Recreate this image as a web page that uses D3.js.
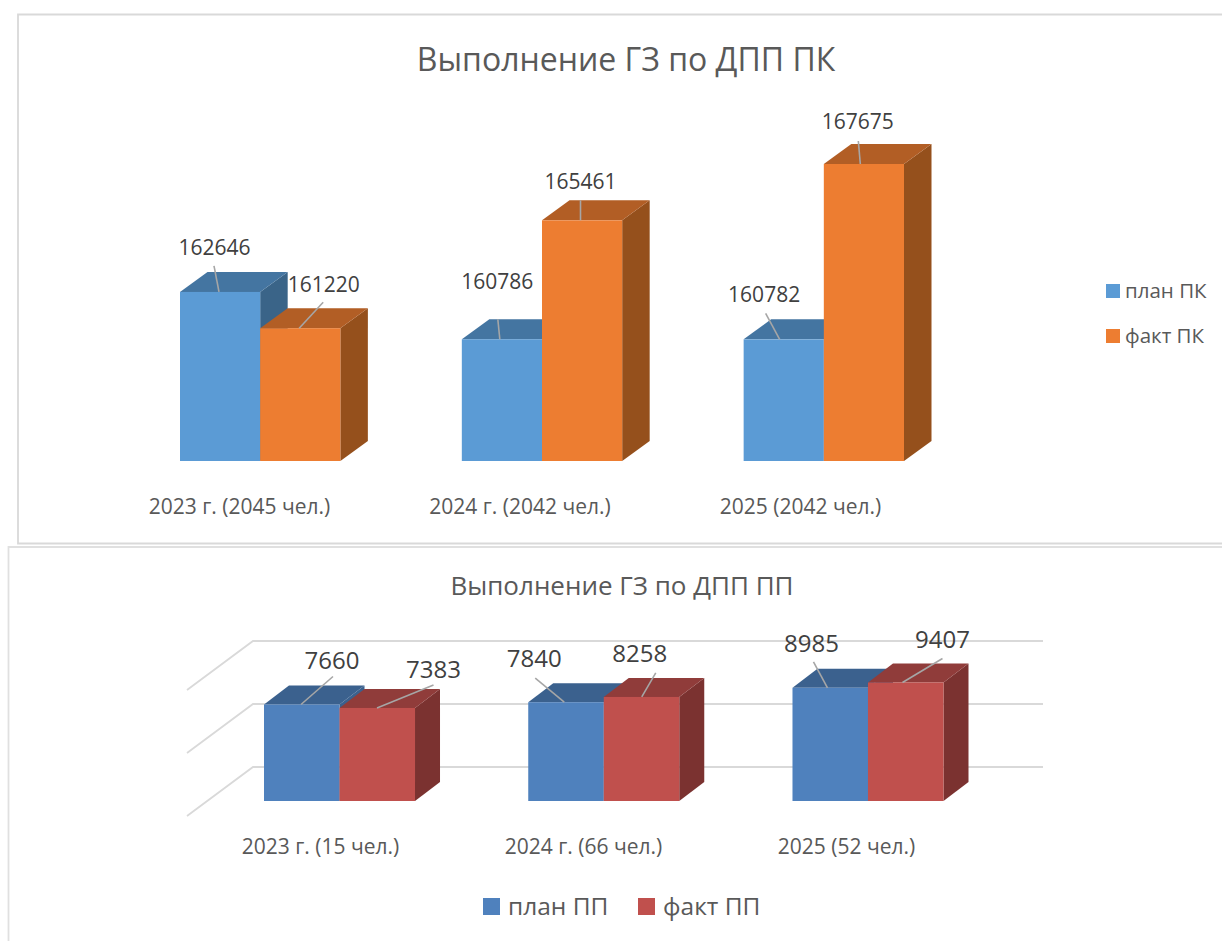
<!DOCTYPE html>
<html>
<head>
<meta charset="utf-8">
<script src="https://cdn.jsdelivr.net/npm/d3@7"></script>
<style>
  html, body { margin: 0; padding: 0; background: #fff; }
  svg { display: block; font-family: "Open Sans", "Noto Sans", sans-serif; }
</style>
</head>
<body>
<script>
// Chart data
var pkCategories = ["2023 г. (2045 чел.)", "2024 г. (2042 чел.)", "2025 (2042 чел.)"];
var pkSeries = ["план ПК", "факт ПК"];
var pkPlan = [162646, 160786, 160782];
var pkFact = [161220, 165461, 167675];

var ppCategories = ["2023 г. (15 чел.)", "2024 г. (66 чел.)", "2025 (52 чел.)"];
var ppSeries = ["план ПП", "факт ПП"];
var ppPlan = [7660, 7840, 8985];
var ppFact = [7383, 8258, 9407];
var ppGridValues = [0, 5000, 10000];

var svg = d3.select("body").append("svg")
    .attr("width", 1222)
    .attr("height", 941);

// Frames around the two pasted charts
var frameColor = "#d9d9d9";
svg.append("path")
    .attr("d", "M1222,14.5H18V543.5H1222")
    .attr("fill", "none").attr("stroke", frameColor).attr("stroke-width", 1.8);
svg.append("path")
    .attr("d", "M1222,547H8.5V941")
    .attr("fill", "none").attr("stroke", "#e0e0e0").attr("stroke-width", 1.8);

// Draws one 3D clustered bar chart. Label offsets are relative to the bar's top left corner.
function drawChart(opt) {
    var g = svg.append("g");

    var x0 = d3.scaleBand()
        .domain(opt.categories)
        .range(opt.xRange)
        .paddingInner(opt.inner)
        .paddingOuter(0);
    var x1 = d3.scaleBand()
        .domain(opt.series)
        .range([0, x0.bandwidth()]);
    var y = d3.scaleLinear()
        .domain(opt.yDomain)
        .range(opt.yRange);

    // gridlines with the wall and floor perspective
    if (opt.grid) {
        var lines = g.append("g").attr("fill", "none")
            .attr("stroke", "#d9d9d9").attr("stroke-width", 1.8);
        lines.selectAll("path")
            .data(opt.grid)
            .enter()
            .append("path")
            .attr("d", function(d) {
                var wallY = y(d) - opt.wallRise;
                return "M" + opt.gridX[0] + "," + (wallY + opt.sideRise) +
                    "L" + opt.gridX[1] + "," + wallY +
                    "H" + opt.gridX[2];
            });
    }

    // flatten to one record per bar, left to right
    var bars = [];
    opt.categories.forEach(function(c, i) {
        opt.series.forEach(function(s, j) {
            bars.push({ category: c, series: s, j: j, value: opt.values[j][i] });
        });
    });

    var dx = opt.depth[0], dy = opt.depth[1];
    var bar = g.selectAll("g.bar")
        .data(bars)
        .enter()
        .append("g")
        .attr("class", "bar")
        .each(function(d) {
            d.x = x0(d.category) + x1(d.series);
            d.w = x1.bandwidth();
            d.top = y(d.value);
            d.base = y(opt.yDomain[0]);
        });

    // side face
    bar.append("polygon")
        .attr("points", function(d) {
            var r = d.x + d.w;
            return [[r, d.top], [r + dx, d.top - dy], [r + dx, d.base - dy], [r, d.base]].join(" ");
        })
        .attr("fill", function(d) { return opt.sideColors[d.j]; });
    // top face
    bar.append("polygon")
        .attr("points", function(d) {
            var r = d.x + d.w;
            return [[d.x, d.top], [d.x + dx, d.top - dy], [r + dx, d.top - dy], [r, d.top]].join(" ");
        })
        .attr("fill", function(d) { return opt.topColors[d.j]; });
    // front face
    bar.append("rect")
        .attr("x", function(d) { return d.x; })
        .attr("y", function(d) { return d.top; })
        .attr("width", function(d) { return d.w; })
        .attr("height", function(d) { return d.base - d.top; })
        .attr("fill", function(d) { return opt.colors[d.j]; });

    // leader lines
    g.selectAll("line.leader")
        .data(bars)
        .enter()
        .append("line")
        .attr("class", "leader")
        .attr("x1", function(d, i) { return d.x + opt.labelLayout[i][0]; })
        .attr("y1", function(d) { return d.top; })
        .attr("x2", function(d, i) { return d.x + opt.labelLayout[i][1]; })
        .attr("y2", function(d, i) { return d.top + opt.labelLayout[i][2]; })
        .attr("stroke", "#a6a6a6")
        .attr("stroke-width", 1.6);

    // value labels
    g.selectAll("text.value")
        .data(bars)
        .enter()
        .append("text")
        .attr("class", "value")
        .text(function(d) { return d.value; })
        .attr("x", function(d, i) { return d.x + opt.labelLayout[i][3]; })
        .attr("y", function(d, i) { return d.top + opt.labelLayout[i][4]; })
        .attr("text-anchor", "middle")
        .attr("font-size", opt.valueSize)
        .attr("fill", "#404040");

    // category axis
    var xLabels = d3.scalePoint().domain(opt.categories).range(opt.labelRange);
    var axis = g.append("g")
        .attr("transform", "translate(0," + opt.axisY + ")")
        .call(d3.axisBottom(xLabels).tickSize(0).tickPadding(0));
    axis.select(".domain").remove();
    axis.attr("font-family", null);
    axis.selectAll("text")
        .attr("font-size", opt.axisSize)
        .attr("dy", 0)
        .attr("y", 0)
        .attr("fill", "#595959");

    // title
    g.append("text")
        .text(opt.title)
        .attr("x", opt.titlePos[0])
        .attr("y", opt.titlePos[1])
        .attr("text-anchor", "middle")
        .attr("font-size", opt.titleSize)
        .attr("fill", "#595959");

    // legend
    var legend = g.selectAll("g.legend")
        .data(opt.series)
        .enter()
        .append("g")
        .attr("class", "legend")
        .attr("transform", function(d, i) {
            return "translate(" + opt.legendPos[i][0] + "," + opt.legendPos[i][1] + ")";
        });
    legend.append("rect")
        .attr("width", opt.swatch)
        .attr("height", opt.swatch)
        .attr("fill", function(d, i) { return opt.colors[i]; });
    legend.append("text")
        .text(function(d) { return d; })
        .attr("x", opt.swatch + opt.swatchGap)
        .attr("y", opt.swatch / 2)
        .attr("dy", "0.35em")
        .attr("font-size", opt.legendSize)
        .attr("fill", "#595959");
}

drawChart({
    title: "Выполнение ГЗ по ДПП ПК",
    titlePos: [626, 71],
    titleSize: 32,
    categories: pkCategories,
    series: pkSeries,
    values: [pkPlan, pkFact],
    xRange: [180, 904],
    inner: 0.431,
    yDomain: [156000, 167675],
    yRange: [461, 164],
    depth: [27.5, 20],
    colors: ["#5b9bd5", "#ed7d31"],
    topColors: ["#4475a1", "#b25e25"],
    sideColors: ["#3a6488", "#95501c"],
    labelLayout: [
        [39, 34, -26, 34.5, -37],
        [39, 63, -26, 63.5, -36],
        [38, 36, -20, 35.5, -50],
        [38.5, 38.5, -20, 38.5, -31],
        [36, 22, -26, 20.5, -37],
        [36.5, 34.5, -23, 34, -35]
    ],
    valueSize: 21,
    labelRange: [239, 800],
    axisY: 514,
    axisSize: 21,
    legendPos: [[1106, 284], [1106, 329]],
    swatch: 14,
    swatchGap: 5,
    legendSize: 20.5
});

drawChart({
    title: "Выполнение ГЗ по ДПП ПП",
    titlePos: [622, 595],
    titleSize: 26,
    categories: ppCategories,
    series: ppSeries,
    values: [ppPlan, ppFact],
    xRange: [264, 943.5],
    inner: 0.4285,
    yDomain: [0, 10000],
    yRange: [801, 675],
    depth: [25, 19],
    colors: ["#4f81bd", "#c0504d"],
    topColors: ["#3b618e", "#903c3a"],
    sideColors: ["#3b618e", "#7b3230"],
    grid: ppGridValues,
    gridX: [187, 253, 1043],
    wallRise: 34,
    sideRise: 49,
    labelLayout: [
        [37, 69, -28, 68, -35],
        [37.5, 94, -23, 94, -30],
        [36, 7, -24, 6, -35],
        [38, 52, -24, 36, -35],
        [35, 21, -26, 19, -36],
        [34.5, 74.5, -24, 74.5, -34]
    ],
    valueSize: 24,
    labelRange: [320, 846],
    axisY: 854,
    axisSize: 21,
    legendPos: [[483, 898], [638, 898]],
    swatch: 17,
    swatchGap: 8,
    legendSize: 24.5
});
</script>
</body>
</html>
